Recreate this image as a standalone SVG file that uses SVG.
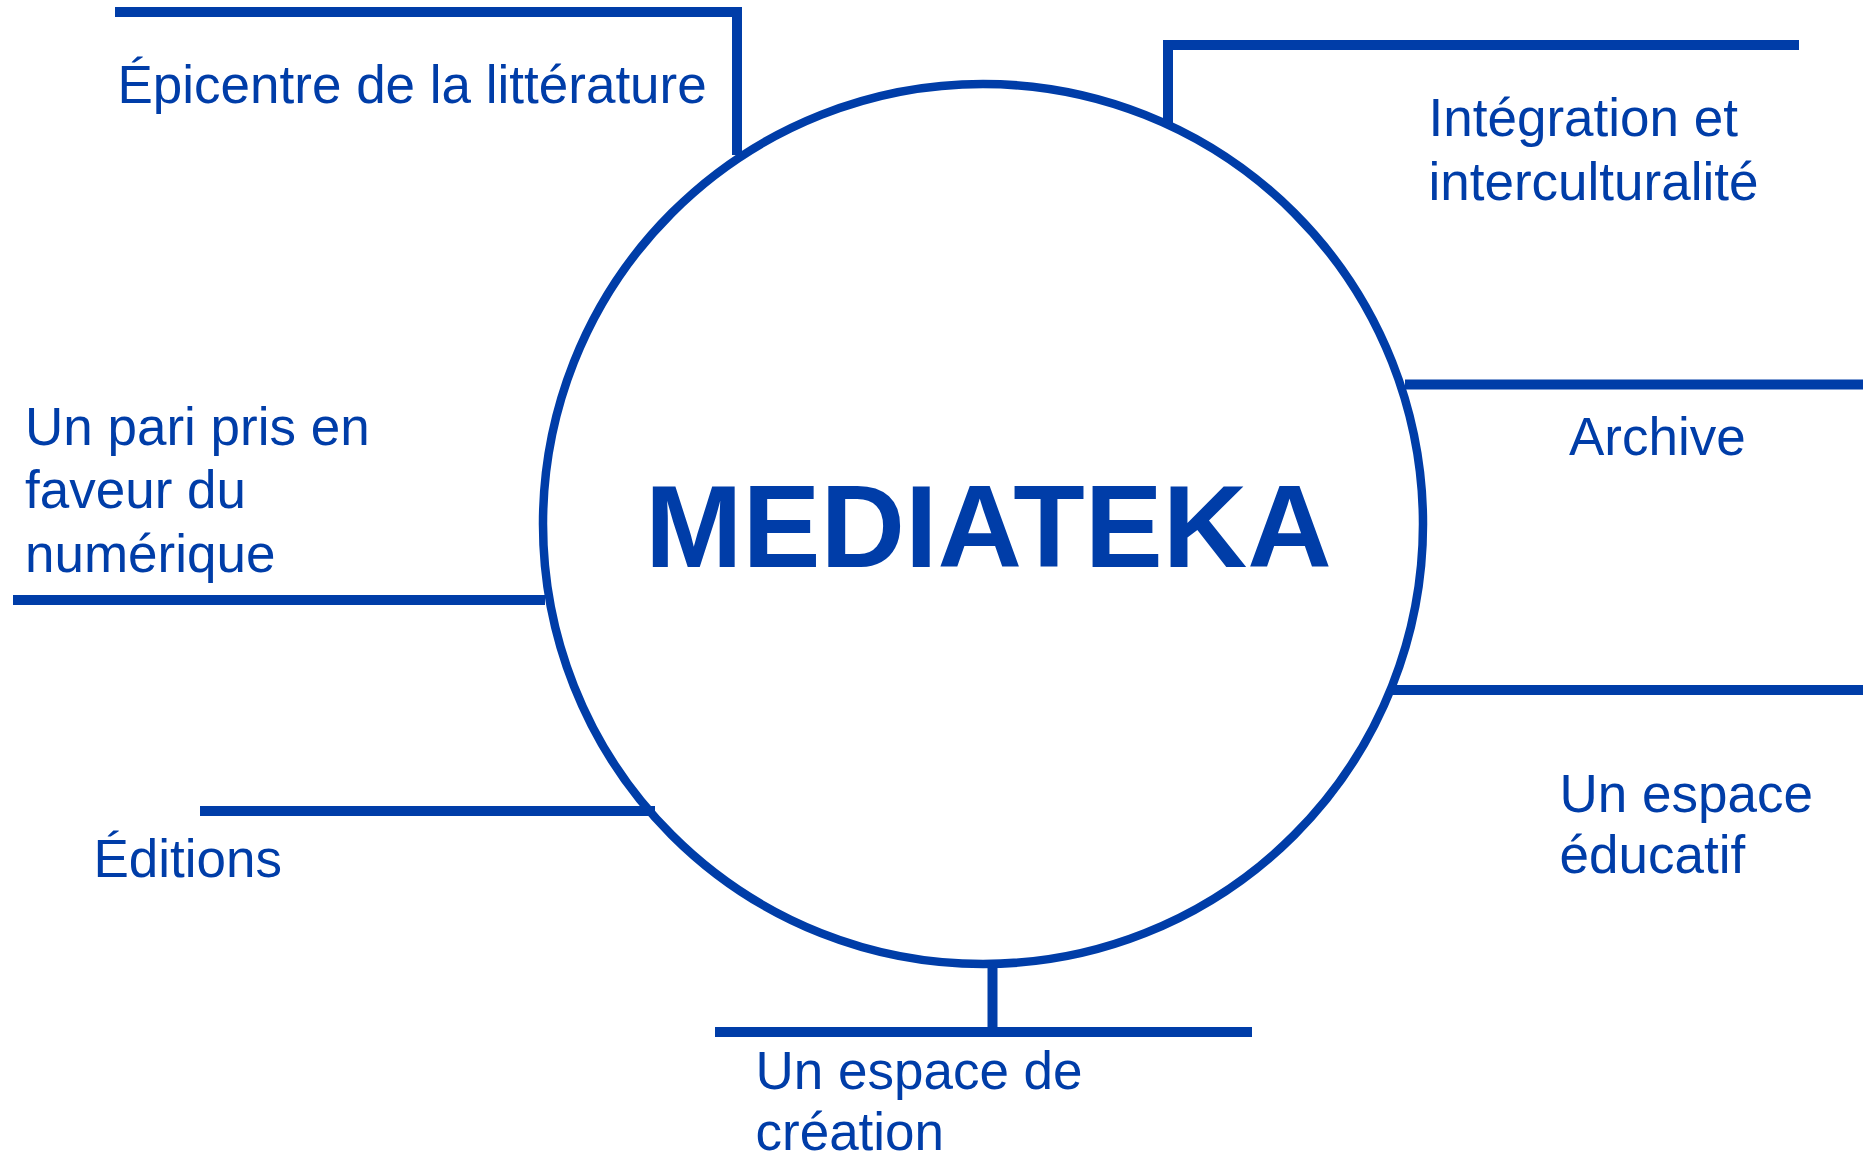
<svg xmlns="http://www.w3.org/2000/svg" width="1863" height="1155" viewBox="0 0 1863 1155">
<style>
.ln{fill:none;stroke:#003DA8;stroke-width:10;stroke-linecap:butt;stroke-linejoin:miter}
.lbl{font-family:"Liberation Sans",Arial,sans-serif;font-size:53px;fill:#003DA8}
.title{font-family:"Liberation Sans",Arial,sans-serif;font-size:117px;font-weight:bold;fill:#003DA8}
</style>
<rect width="1863" height="1155" fill="#ffffff"/>
<g id="connectors">
<polyline class="ln" points="115,12 737,12 737,155"/>
<polyline class="ln" points="1168,123 1168,45 1799,45"/>
<line class="ln" x1="1405" y1="384.5" x2="1863" y2="384.5"/>
<line class="ln" x1="1392" y1="690" x2="1863" y2="690"/>
<line class="ln" x1="13" y1="600" x2="545" y2="600"/>
<line class="ln" x1="200" y1="811" x2="655" y2="811"/>
<line class="ln" x1="992.5" y1="965" x2="992.5" y2="1032"/>
<line class="ln" x1="715" y1="1032" x2="1252" y2="1032"/>
</g>
<g id="center">
<circle cx="983" cy="524" r="440" fill="none" stroke="#003DA8" stroke-width="8.5"/>
<text class="title" x="645" y="567">MEDIATEKA</text>
</g>
<g id="n-epicentre"><text class="lbl" x="117.5" y="103">Épicentre de la littérature</text></g>
<g id="n-integration"><text class="lbl" x="1428.5" y="136">Intégration et<tspan x="1428.5" y="200">interculturalité</tspan></text></g>
<g id="n-numerique"><text class="lbl" x="25" y="445">Un pari pris en<tspan x="25" y="508">faveur du</tspan><tspan x="25" y="572">numérique</tspan></text></g>
<g id="n-archive"><text class="lbl" x="1569" y="455">Archive</text></g>
<g id="n-educatif"><text class="lbl" x="1559.5" y="812">Un espace<tspan x="1559.5" y="873">éducatif</tspan></text></g>
<g id="n-editions"><text class="lbl" x="93.5" y="877">Éditions</text></g>
<g id="n-creation"><text class="lbl" x="755.5" y="1089">Un espace de<tspan x="755.5" y="1150">création</tspan></text></g>
</svg>
